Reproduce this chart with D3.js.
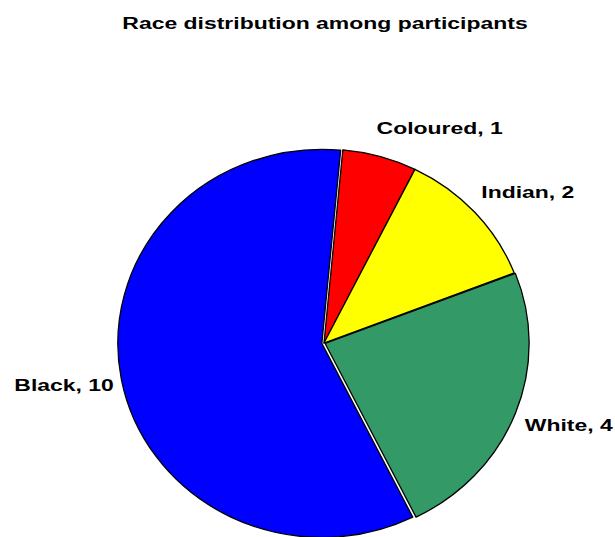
<!DOCTYPE html>
<html><head><meta charset="utf-8">
<script src="https://cdn.jsdelivr.net/npm/d3@7"></script>
<style>body{margin:0;background:#fff}svg{display:block}</style>
</head><body>
<script>
const categories = ["Coloured", "Indian", "White", "Black"];
const values = [1, 2, 4, 10];
const title = "Race distribution among participants";

// styling (not data)
const colors = ["#ff0000", "#ffff00", "#339966", "#0000ff"];
const W = 615, H = 537;
const cx = 324, cy = 343, rx = 204, ry = 194;
const startDeg = 5.3;
const textStretch = 1.35;
const explodePx = {Coloured: 0, Indian: 0, White: 1.2, Black: 2.2};

const svg = d3.select("body").append("svg").attr("width", W).attr("height", H);
svg.append("text").attr("transform", `translate(325,29) scale(${textStretch},1)`)
  .attr("text-anchor", "middle")
  .attr("font-family", "Liberation Sans, Arial, sans-serif").attr("font-weight", "bold")
  .attr("font-size", 17).text(title);

const data = categories.map((c, i) => ({cat: c, value: values[i], color: colors[i]}));
const pie = d3.pie().value(d => d.value).sort(null)
  .startAngle(startDeg * Math.PI / 180).endAngle(startDeg * Math.PI / 180 + 2 * Math.PI);
const arcs = pie(data);
const arc = d3.arc().innerRadius(0).outerRadius(rx);

const g = svg.append("g").attr("transform", `translate(${cx},${cy})`);
g.selectAll("path").data(arcs).join("path")
  .attr("transform", d => {
    const a = (d.startAngle + d.endAngle) / 2, e = explodePx[d.data.cat] || 0;
    return `translate(${e * Math.sin(a)},${-e * Math.cos(a)}) scale(1,${ry / rx})`;
  })
  .attr("d", arc).attr("fill", d => d.data.color)
  .attr("stroke", "#000").attr("stroke-width", 1.3)
  .attr("vector-effect", "non-scaling-stroke").attr("stroke-linejoin", "round");

const lr = 225;
svg.selectAll("text.lab").data(arcs).join("text").attr("class", "lab")
  .each(function(d) {
    const a = (d.startAngle + d.endAngle) / 2;
    const s = Math.sin(a);
    const x = cx + lr * s + (s > 0 ? -9 : 11);
    const y = cy - lr * Math.cos(a) + 1;
    d3.select(this).attr("transform", `translate(${x},${y}) scale(${textStretch},1)`)
      .attr("dy", "0.35em")
      .attr("text-anchor", s > 0 ? "start" : "end");
  })
  .attr("font-family", "Liberation Sans, Arial, sans-serif").attr("font-weight", "bold")
  .attr("font-size", 17).text(d => `${d.data.cat}, ${d.data.value}`);
</script>
</body></html>
